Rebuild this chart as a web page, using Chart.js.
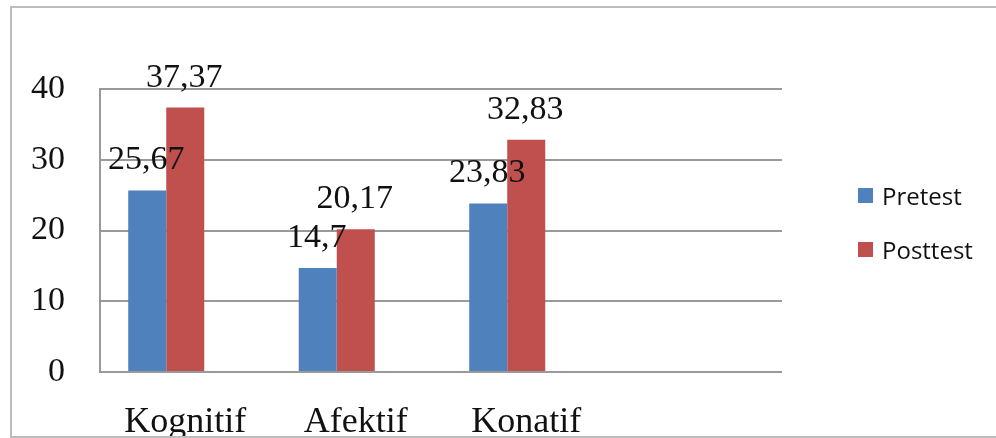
<!DOCTYPE html>
<html>
<head>
<meta charset="utf-8">
<script src="https://cdn.jsdelivr.net/npm/chart.js@4/dist/chart.umd.min.js"></script>
<style>
body { margin: 0; background: #fff; }
#wrap { position: relative; width: 996px; height: 438px; overflow: hidden; }
#frame { position: absolute; left: 10px; top: 6px; width: 1000px; height: 428px; border: 2px solid #bdbdbd; z-index: 2; }
#chart { position: absolute; left: 0; top: 0; z-index: 1; }
.legend-item { position: absolute; left: 858px; height: 15px; display: flex; align-items: center;
  font-family: "Open Sans", sans-serif; font-size: 24px; color: #111; white-space: nowrap; z-index: 3; }
.legend-box { width: 15px; height: 15px; margin-right: 9px; }
</style>
</head>
<body>
<div id="wrap">
  <canvas id="chart" width="996" height="438"></canvas>
  <div id="frame"></div>
  <div id="legend"></div>
</div>
<script>
// data
const categories = ['Kognitif', 'Afektif', 'Konatif', ''];
const pretest = [25.67, 14.7, 23.83, null];
const posttest = [37.37, 20.17, 32.83, null];
const yTicks = [0, 10, 20, 30, 40];

const blue = '#4f81bd';
const red = '#c0504d';

// draws the value above each bar, comma as decimal mark
const valueLabels = {
    id: 'valueLabels',
    afterDatasetsDraw(chart) {
        const ctx = chart.ctx;
        ctx.save();
        ctx.font = '34px "Liberation Serif"';
        ctx.fillStyle = '#111';
        ctx.textAlign = 'center';
        ctx.textBaseline = 'alphabetic';
        chart.data.datasets.forEach((ds, i) => {
            if (!ds.label) return;
            const meta = chart.getDatasetMeta(i);
            meta.data.forEach((bar, j) => {
                const v = ds.data[j];
                if (v == null) return;
                ctx.fillText(String(v).replace('.', ','), bar.x - 1, bar.y - 21);
            });
        });
        ctx.restore();
    }
};

const ctx = document.getElementById('chart').getContext('2d');
const chart = new Chart(ctx, {
    type: 'bar',
    data: {
        labels: categories,
        datasets: [
            { label: 'Pretest', data: pretest, backgroundColor: blue },
            { label: 'Posttest', data: posttest, backgroundColor: red },
            // empty slot so the pair sits left of the label, as in the original
            { label: '', data: categories.map(() => null), backgroundColor: 'rgba(0,0,0,0)' }
        ]
    },
    options: {
        responsive: false,
        animation: false,
        layout: { padding: { top: 89, right: 214, bottom: 0, left: 0 } },
        datasets: { bar: { categoryPercentage: 0.669, barPercentage: 1.0 } },
        plugins: {
            legend: { display: false },
            tooltip: { enabled: false }
        },
        scales: {
            x: {
                grid: { display: false, drawTicks: false },
                border: { display: false },
                ticks: {
                    color: '#111',
                    padding: 29,
                    maxRotation: 0,
                    autoSkip: false,
                    font: { family: 'Liberation Serif', size: 36 }
                },
                afterFit: (scale) => { scale.height = 66; }
            },
            y: {
                min: yTicks[0],
                max: yTicks[yTicks.length - 1],
                afterBuildTicks: (scale) => { scale.ticks = yTicks.map(v => ({ value: v })); },
                grid: { color: '#9a9a9a', lineWidth: 2, drawTicks: false },
                border: { display: true, color: '#9a9a9a', width: 2 },
                ticks: {
                    color: '#111',
                    padding: 35,
                    font: { family: 'Liberation Serif', size: 34 }
                },
                afterFit: (scale) => { scale.width = 100; }
            }
        }
    },
    plugins: [valueLabels]
});

// legend on the right, built from the datasets
const legendEl = document.getElementById('legend');
const legendTops = [188, 242];
chart.data.datasets.filter(ds => ds.label).forEach((ds, i) => {
    const item = document.createElement('div');
    item.className = 'legend-item';
    item.style.top = legendTops[i] + 'px';
    const box = document.createElement('span');
    box.className = 'legend-box';
    box.style.background = ds.backgroundColor;
    item.appendChild(box);
    item.appendChild(document.createTextNode(ds.label));
    legendEl.appendChild(item);
});
</script>
</body>
</html>
